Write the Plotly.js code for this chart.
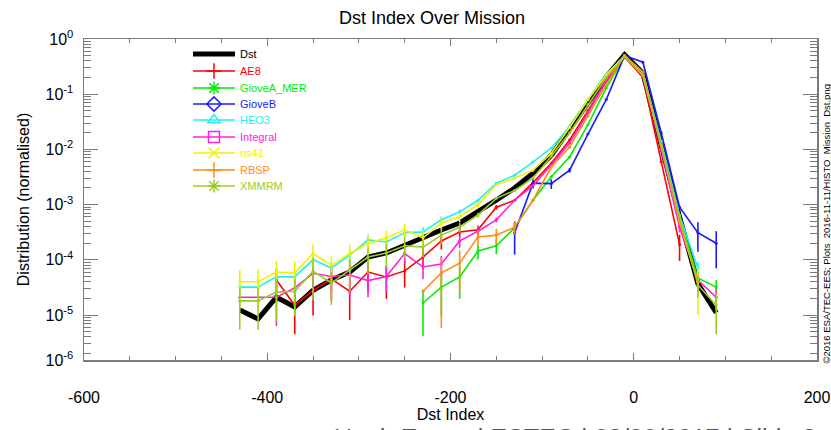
<!DOCTYPE html>
<html>
<head>
<meta charset="utf-8">
<script src="https://cdn.plot.ly/plotly-3.0.1.min.js"></script>
<style>html,body{margin:0;padding:0;background:#fff;}#chart{width:831px;height:430px;}</style>
</head>
<body>
<div id="chart"></div>
<script>
// Dst index bin centres
const dstBins = [-430,-410,-390,-370,-350,-330,-310,-290,-270,-250,-230,-210,-190,-170,-150,-130,-110,-90,-70,-50,-30,-10,10,30,50,70,90];

const seriesNames = ['Dst','AE8','GioveA_MER','GioveB','HEO3','Integral','ns41','RBSP','XMMRM'];

const dstValues = [1.23e-5,8.5e-6,2.1e-5,1.4e-5,2.8e-5,4.3e-5,6.0e-5,1.12e-4,1.33e-4,1.85e-4,2.45e-4,3.47e-4,4.65e-4,7.4e-4,1.2e-3,2.0e-3,3.7e-3,7.8e-3,0.0224,0.069,0.205,0.52,0.24,0.011,6e-4,3.7e-5,1.1e-5];

const ae8Values = [null,null,4.3e-5,1.5e-5,2.8e-5,4.5e-5,2.7e-5,6e-5,4.9e-5,6.3e-5,1.12e-4,2.2e-4,3.2e-4,3.5e-4,9e-4,1.2e-3,2.5e-3,5.6e-3,0.0148,0.05,0.17,0.48,0.2,0.006,1.9e-4,null,null];
const ae8RelErr = [0,0,0.6,0.7,0.65,0.6,0.7,0.55,0.6,0.5,0.4,0.3,0.2,0.2,0.1,0,0,0,0,0,0,0,0,0,0.5,0,0];

const gioveAValues = [null,null,null,null,null,null,null,null,null,null,1.65e-5,3.2e-5,4.9e-5,1.45e-4,1.8e-4,3.8e-4,1.2e-3,3.2e-3,7.3e-3,0.028,0.13,0.48,0.25,0.012,6e-4,4.7e-5,3.2e-5];
const gioveARelErr = [0,0,0,0,0,0,0,0,0,0,0.75,0.7,0.6,0.3,0.3,0.2,0,0,0,0,0,0,0,0,0,0.3,0.35];

const gioveBValues = [null,null,null,null,null,null,null,null,null,null,null,null,null,null,null,3.1e-4,2.45e-3,2.4e-3,4.2e-3,0.019,0.08,0.5,0.38,0.02,9e-4,3.1e-4,2e-4];
const gioveBRelErr = [0,0,0,0,0,0,0,0,0,0,0,0,0,0,0,0.6,0.2,0.2,0.1,0,0,0,0,0,0,0.55,0.65];

const heo3Values = [3.2e-5,3.2e-5,4.9e-5,4.9e-5,1.0e-4,7.1e-5,1.22e-4,2.3e-4,2.1e-4,3.1e-4,3.2e-4,5.3e-4,7.4e-4,1.2e-3,2.45e-3,3.4e-3,5.9e-3,0.0106,0.026,0.08,0.23,0.5,0.25,0.014,6.5e-4,7e-5,null];
const heo3RelErr = [0.4,0.4,0.35,0.35,0.3,0.3,0.3,0.25,0.25,0.2,0.2,0.15,0.1,0,0,0,0,0,0,0,0,0,0,0,0,0.3,0];

const integralValues = [2.1e-5,2.1e-5,2.1e-5,3.1e-5,5.7e-5,5.0e-5,5.3e-5,4.2e-5,5.0e-5,1.3e-4,7.4e-5,8.4e-5,2.2e-4,3.3e-4,5.3e-4,1.2e-3,2.2e-3,5.2e-3,0.013,0.046,0.18,0.5,0.22,0.01,3.9e-4,4.3e-5,2.1e-5];
const integralRelErr = [0,0,0.7,0.6,0.55,0.5,0.6,0.5,0.5,0.35,0.4,0.4,0.25,0.2,0.1,0,0,0,0,0,0,0,0,0,0.2,0.35,0.4];

const ns41Values = [4.0e-5,4.0e-5,6.0e-5,5.8e-5,1.3e-4,8.0e-5,1.3e-4,2.0e-4,2.5e-4,3.5e-4,2.5e-4,4.6e-4,6e-4,1.0e-3,2.3e-3,3.0e-3,4.2e-3,8.5e-3,0.025,0.08,0.22,0.5,0.22,0.012,5e-4,4e-5,null];
const ns41RelErr = [0.65,0.65,0.6,0.6,0.45,0.5,0.45,0.4,0.35,0.3,0.35,0.25,0.2,0.1,0,0,0,0,0,0,0,0,0,0,0,0.75,0];

const rbspValues = [null,null,null,null,null,null,null,null,null,null,2.7e-5,5.8e-5,8.7e-5,2.6e-4,2.8e-4,3.9e-4,1.2e-3,4.8e-3,0.011,0.04,0.15,0.5,0.25,0.012,5e-4,4e-5,null];
const rbspRelErr = [0,0,0,0,0,0,0,0,0,0,0,0.9,0.7,0.3,0.3,0.25,0,0,0,0,0,0,0,0,0,0.3,0];

const xmmrmValues = [1.8e-5,1.8e-5,2.6e-5,2.7e-5,6.2e-5,3.8e-5,6.5e-5,1.12e-4,1.33e-4,1.8e-4,1.7e-4,2.8e-4,3.9e-4,6.5e-4,1.3e-3,1.8e-3,3.0e-3,7.5e-3,0.02,0.065,0.2,0.48,0.22,0.012,6e-4,3.5e-5,1.5e-5];
const xmmrmRelErr = [0.7,0.7,0.7,0.65,0.7,0.6,0.6,0.5,0.45,0.4,0.35,0.3,0.2,0.1,0,0,0,0,0,0,0,0,0,0,0,0.4,0.7];

const xTickVals = [-600,-400,-200,0,200];
const xTickText = ['-600','-400','-200','0','200'];
const yTickVals = [1,0.1,0.01,1e-3,1e-4,1e-5,1.53e-6];
const yTickText = ['10<sup>0</sup>','10<sup>-1</sup>','10<sup>-2</sup>','10<sup>-3</sup>','10<sup>-4</sup>','10<sup>-5</sup>','10<sup>-6</sup>'];

const FONT = 'Liberation Sans, Arial, Helvetica, sans-serif';
const AXC = '#7a7a7a';

const specs = [
  {name:'AE8', v:ae8Values, e:ae8RelErr, color:'#ff0000', sym:'cross-thin-open'},
  {name:'GioveA_MER', v:gioveAValues, e:gioveARelErr, color:'#00ee00', sym:'asterisk-open'},
  {name:'GioveB', v:gioveBValues, e:gioveBRelErr, color:'#1a1aff', sym:'diamond-open'},
  {name:'HEO3', v:heo3Values, e:heo3RelErr, color:'#22f0f0', sym:'triangle-up-open'},
  {name:'Integral', v:integralValues, e:integralRelErr, color:'#ff22dd', sym:'square-open'},
  {name:'ns41', v:ns41Values, e:ns41RelErr, color:'#f2f200', sym:'x-thin-open'},
  {name:'RBSP', v:rbspValues, e:rbspRelErr, color:'#ff8c1a', sym:'cross-thin-open'},
  {name:'XMMRM', v:xmmrmValues, e:xmmrmRelErr, color:'#9ccc22', sym:'asterisk-open'}
];

const traces = [];
traces.push({x:dstBins, y:dstValues, type:'scatter', mode:'lines', name:'Dst',
  line:{color:'#000', width:5}, showlegend:false, hoverinfo:'skip'});
specs.forEach(s=>{
  traces.push({x:dstBins, y:s.v, type:'scatter', mode:'lines+markers', name:s.name,
    line:{color:s.color, width:1.6}, marker:{color:s.color, size:3},
    error_y:{type:'data', array:s.v.map((val,i)=> val==null?0:val*s.e[i]), width:0, thickness:1.6, color:s.color},
    showlegend:false, connectgaps:false});
});

// legend entries: one small legend per series (positions only)
const legendRowsPx = [54,71,88,104,120,137,153,170,186];
const legendLayouts = {};
function legendKey(i){ return i===0 ? 'legend' : 'legend'+(i+1); }
legendRowsPx.forEach((py,i)=>{
  legendLayouts[legendKey(i)] = {x:(188-84)/733, y:(360-py)/321, xanchor:'left', yanchor:'middle',
    bgcolor:'rgba(0,0,0,0)', borderwidth:0, itemwidth:42,
    font:{family:FONT, size:11, color:'#000'}, tracegroupgap:0, itemsizing:'trace'};
});
traces.push({x:[null], y:[null], type:'scatter', mode:'lines', name:'Dst', line:{color:'#000', width:5},
  showlegend:true, legend:legendKey(0)});
specs.forEach((s,i)=>{
  traces.push({x:[null], y:[null], type:'scatter', mode:'lines+markers',
    name:'<span style="color:'+s.color+'">'+s.name+'</span>',
    line:{color:s.color, width:1.5}, marker:{color:s.color, size:11, symbol:s.sym, line:{color:s.color, width:1.5}},
    showlegend:true, legend:legendKey(i+1)});
});

const layout = Object.assign({
  width:831, height:430,
  margin:{l:84, r:14, t:39, b:70},
  paper_bgcolor:'#fff', plot_bgcolor:'#fff',
  font:{family:FONT, color:'#000'},
  title:{text:'Dst Index Over Mission', font:{family:FONT, size:18, color:'#000'},
    x:432/831, xanchor:'center', xref:'container', y:1-18/430, yanchor:'middle', yref:'container'},
  showlegend:true,
  xaxis:{range:[-600,200], tickmode:'array', tickvals:xTickVals, ticktext:xTickText,
    ticks:'inside', ticklen:7, tickwidth:1, tickcolor:AXC,
    showline:true, linecolor:AXC, linewidth:1.5, mirror:'ticks', showgrid:false, zeroline:false,
    minor:{tickmode:'linear', tick0:0, dtick:50, ticks:'inside', ticklen:4, tickcolor:AXC, showgrid:false},
    tickfont:{family:FONT, size:16, color:'#000'}, ticklabelstandoff:22,
    title:{text:'Dst Index', font:{family:FONT, size:16, color:'#000'}, standoff:0}},
  yaxis:{type:'log', range:[-5.815,0], tickmode:'array', tickvals:yTickVals, ticktext:yTickText,
    ticks:'inside', ticklen:14, tickwidth:1, tickcolor:AXC,
    showline:true, linecolor:AXC, linewidth:1.5, mirror:'ticks', showgrid:false, zeroline:false,
    minor:{dtick:'D1', ticks:'inside', ticklen:7, tickcolor:AXC, showgrid:false},
    tickfont:{family:FONT, size:16, color:'#000'}, ticklabelstandoff:6,
    title:{text:'Distribution (normalised)', font:{family:FONT, size:16, color:'#000'}, standoff:12}},
  annotations:[
    {text:'©2016 ESA/TEC-EES; Plots_2016-11-11/HISTO_Mission_Dst.png', xref:'paper', yref:'paper',
     x:(826-84)/733, y:(360-366)/321, xanchor:'center', yanchor:'bottom', textangle:-90, showarrow:false,
     font:{family:FONT, size:9.5, color:'#000'}},
    {text:'Hugh Evans | ESTEC | 03/09/2017 | Slide 8', xref:'paper', yref:'paper',
     x:(332-84)/733, y:(360-422)/321, xanchor:'left', yanchor:'top', showarrow:false,
     font:{family:FONT, size:25, color:'#555'}}
  ]
}, legendLayouts);

Plotly.newPlot('chart', traces, layout, {displayModeBar:false, staticPlot:true});
</script>
</body>
</html>
